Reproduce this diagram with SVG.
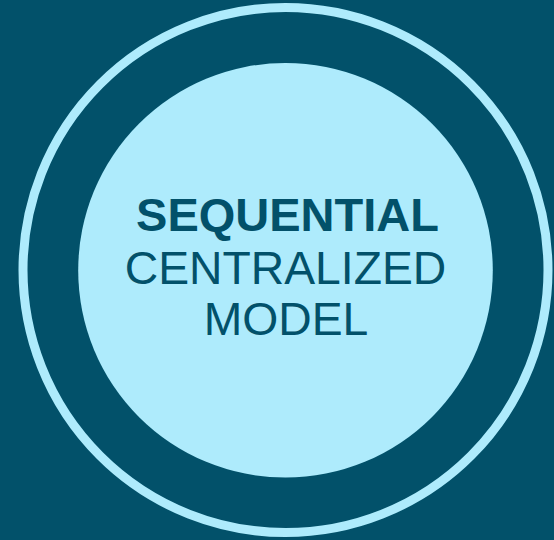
<svg xmlns="http://www.w3.org/2000/svg" width="554" height="540" viewBox="0 0 554 540">
  <style>
    .label { font-family: "Liberation Sans", Arial, sans-serif; font-size: 46.3px; fill: #02516A; text-anchor: middle; }
    .bold { font-weight: bold; font-size: 47px; }
  </style>
  <rect width="554" height="540" fill="#02516A"/>
  <g id="outer-ring">
    <circle cx="285.5" cy="270" r="262.5" fill="none" stroke="#AEEBFC" stroke-width="9"/>
  </g>
  <g id="core">
    <circle cx="285.5" cy="270.3" r="207.3" fill="#AEEBFC"/>
    <text class="label bold" x="287.5" y="231">SEQUENTIAL</text>
    <text class="label" x="285.5" y="283.5">CENTRALIZED</text>
    <text class="label" x="286" y="335">MODEL</text>
  </g>
</svg>
